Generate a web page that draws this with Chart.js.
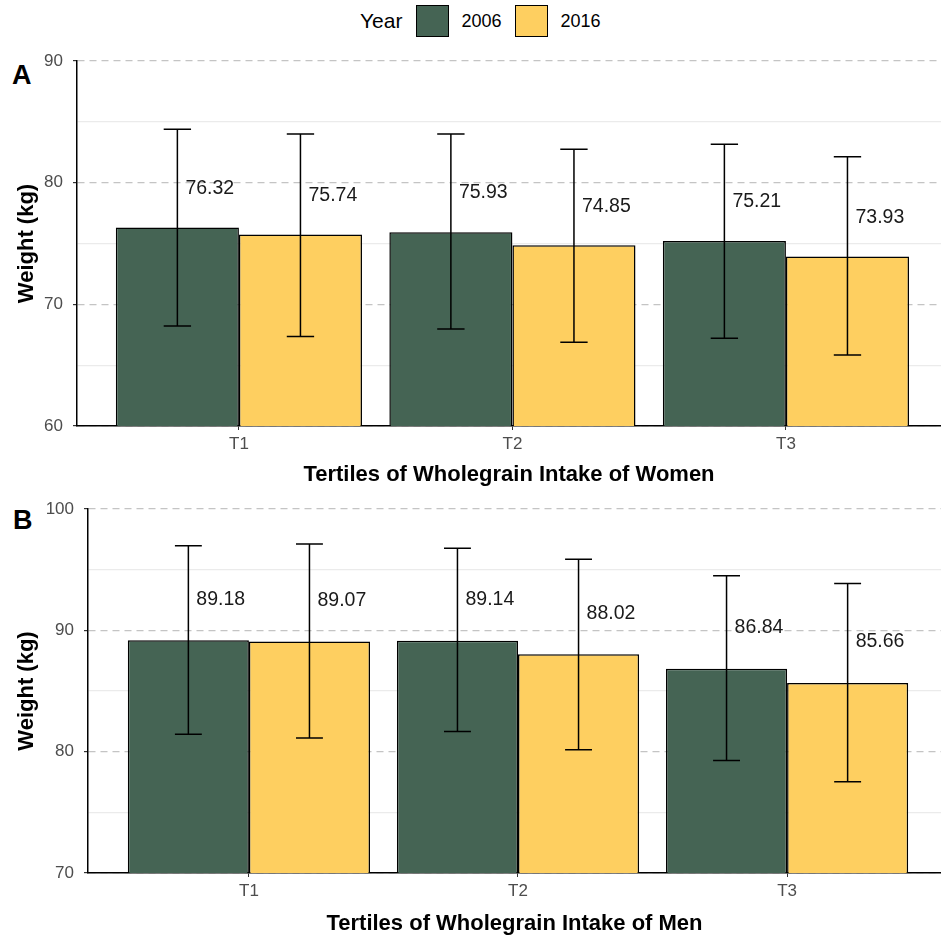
<!DOCTYPE html>
<html>
<head>
<meta charset="utf-8">
<script src="https://cdn.jsdelivr.net/npm/chart.js@4"></script>
<style>
  body { margin:0; width:941px; height:937px; overflow:hidden; background:#fff; font-family:"Liberation Sans", Arial, sans-serif; position:relative; }
  canvas { position:absolute; left:0; }
  .tag { position:absolute; font-weight:bold; font-size:27px; color:#000; }
  #legend { position:absolute; left:360px; top:5px; height:32px; display:flex; align-items:center; font-size:18px; color:#000; }
  #legend .key { width:31px; height:30px; border:1.5px solid #000; margin:0 12px 0 0; }
</style>
</head>
<body>
<div id="legend">
  <span style="font-size:21px;margin-right:14px">Year</span>
  <div class="key" id="key0"></div><span style="margin-right:14px">2006</span>
  <div class="key" id="key1"></div><span>2016</span>
</div>
<div class="tag" style="left:12px;top:60px">A</div>
<div class="tag" style="left:13px;top:505px">B</div>
<canvas id="chartA" width="941" height="488" style="top:0"></canvas>
<canvas id="chartB" width="941" height="449" style="top:488px"></canvas>
<script>
const categories = ['T1', 'T2', 'T3'];
const years = ['2006', '2016'];
const yearColors = ['#456454', '#FECF60'];

const womenMean2006 = [76.32, 75.93, 75.21];
const womenMean2016 = [75.74, 74.85, 73.93];
const womenLow2006 = [68.22, 67.98, 67.21];
const womenHigh2006 = [84.39, 84.00, 83.16];
const womenLow2016 = [67.35, 66.89, 65.84];
const womenHigh2016 = [84.00, 82.74, 82.14];

const menMean2006 = [89.18, 89.14, 86.84];
const menMean2016 = [89.07, 88.02, 85.66];
const menLow2006 = [81.43, 81.67, 79.28];
const menHigh2006 = [96.98, 96.76, 94.50];
const menLow2016 = [81.12, 80.16, 77.52];
const menHigh2016 = [97.11, 95.85, 93.87];

document.getElementById('key0').style.background = yearColors[0];
document.getElementById('key1').style.background = yearColors[1];

const FONT = '"Liberation Sans", Arial, sans-serif';

// error bars + value labels, positioned through the chart scales
const errorBars = {
  id: 'errorBars',
  afterDatasetsDraw(chart, args, opts) {
    const ctx = chart.ctx, xs = chart.scales.x, ys = chart.scales.y;
    const half = (xs.getPixelForValue(1.05) - xs.getPixelForValue(1));
    ctx.save();
    chart.data.datasets.forEach((ds, di) => {
      const meta = chart.getDatasetMeta(di);
      meta.data.forEach((bar, i) => {
        const x = bar.x;
        const top = ys.getPixelForValue(ds.high[i]);
        const bot = ys.getPixelForValue(ds.low[i]);
        ctx.strokeStyle = '#000';
        ctx.lineWidth = 1.5;
        ctx.beginPath();
        ctx.moveTo(x, top); ctx.lineTo(x, bot);
        ctx.moveTo(x - half, top); ctx.lineTo(x + half, top);
        ctx.moveTo(x - half, bot); ctx.lineTo(x + half, bot);
        ctx.stroke();
        ctx.fillStyle = '#1a1a1a';
        ctx.font = '19.5px ' + FONT;
        ctx.textAlign = 'left';
        ctx.textBaseline = 'middle';
        ctx.fillText(ds.data[i].y.toFixed(2), x + 8, ys.getPixelForValue(ds.data[i].y + opts.labelShift));
      });
    });
    ctx.restore();
  }
};

function makeChart(id, means, lows, highs, yMin, yMax, xTitle, yAxisW, xAxisH, padTop, xMin, xMax, labelShift, xTitlePad) {
  const datasets = years.map((yr, k) => ({
    label: yr,
    data: categories.map((c, i) => ({ x: i + 1, y: means[k][i] })),
    low: lows[k],
    high: highs[k],
    backgroundColor: yearColors[k],
    borderColor: '#000',
    borderWidth: 1.5,
    categoryPercentage: 0.9,
    barPercentage: 1.0
  }));
  return new Chart(document.getElementById(id), {
    type: 'bar',
    data: { datasets },
    plugins: [errorBars],
    options: {
      responsive: false,
      animation: false,
      devicePixelRatio: 1,
      layout: { padding: { top: padTop, left: 0, right: 0, bottom: 0 } },
      plugins: { legend: { display: false }, tooltip: { enabled: false }, errorBars: { labelShift } },
      scales: {
        x: {
          type: 'linear', min: xMin, max: xMax, offset: false,
          afterBuildTicks: s => { s.ticks = categories.map((c, i) => ({ value: i + 1 })); },
          afterFit: s => { s.height = xAxisH; },
          ticks: { callback: v => categories[v - 1], color: '#4d4d4d', font: { family: FONT, size: 17 }, padding: 4 },
          grid: { drawOnChartArea: false, offset: false, drawTicks: true, tickLength: 4, tickColor: '#333' },
          border: { display: true, color: '#000', width: 1.5 },
          title: { display: true, text: xTitle, color: '#000', font: { family: FONT, size: 22, weight: 'bold' }, padding: { top: xTitlePad, bottom: 0 } }
        },
        y: {
          min: yMin, max: yMax,
          afterFit: s => { s.width = yAxisW; },
          ticks: { stepSize: 5, autoSkip: false, callback: v => (v % 10 === 0 ? v : ''), color: '#4d4d4d', font: { family: FONT, size: 17 }, padding: 10 },
          grid: {
            color: c => (c.tick && c.tick.value % 10 === 0 ? '#c4c4c4' : '#ebebeb'),
            lineWidth: 1.2,
            tickLength: 4,
            tickColor: c => (c.tick && c.tick.value % 10 === 0 ? '#333' : 'rgba(0,0,0,0)')
          },
          border: { display: true, color: '#000', width: 1.5, dash: c => (c.tick && c.tick.value % 10 === 0 ? [7, 5] : []) },
          title: { display: true, text: 'Weight (kg)', color: '#000', font: { family: FONT, size: 22, weight: 'bold' }, padding: { top: 14, bottom: 0 } }
        }
      }
    }
  });
}

makeChart('chartA', [womenMean2006, womenMean2016], [womenLow2006, womenLow2016], [womenHigh2006, womenHigh2016],
  60, 90, 'Tertiles of Wholegrain Intake of Women', 77, 62, 61, 0.408, 3.567, 3.22, 3);
makeChart('chartB', [menMean2006, menMean2016], [menLow2006, menLow2016], [menHigh2006, menHigh2016],
  70, 100, 'Tertiles of Wholegrain Intake of Men', 88, 64, 21, 0.402, 3.572, 3.37, 5);
</script>
</body>
</html>
